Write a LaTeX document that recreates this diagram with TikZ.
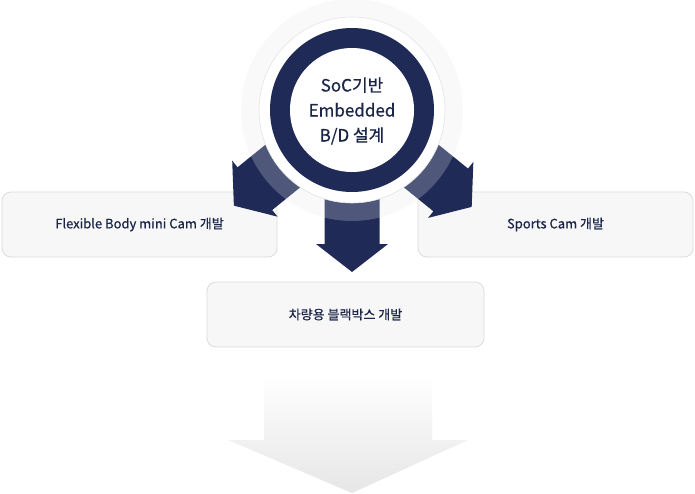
\documentclass[tikz,border=0pt]{standalone}
\usepackage{fontspec}
\newfontfamily\kr{Noto Sans CJK KR}[FakeBold=0.5]
\definecolor{navy}{HTML}{1F2B56}
\definecolor{boxfill}{HTML}{F7F7F7}
\definecolor{boxline}{HTML}{DCDCDC}
\definecolor{txt}{HTML}{1A2548}
\definecolor{halo}{HTML}{E9EAEE}
\definecolor{ringline}{HTML}{E4E4E4}
\definecolor{arrowbot}{HTML}{E6E6E6}
\begin{document}
\begin{tikzpicture}[x=1pt,y=-1pt,
  card/.style={draw=boxline, fill=boxfill, rounded corners=9pt, line width=0.8pt,
    minimum height=65pt, inner sep=0pt, font=\kr\fontsize{13}{15}\selectfont, text=txt},
  navyarrow/.style={fill=navy},
  corelabel/.style={font=\kr\fontsize{17}{25}\selectfont, text=txt, align=center}]
\useasboundingbox (0,0) rectangle (695,494);
\fill[white] (0,0) rectangle (695,494);
% boxes
\node[card, minimum width=275pt] (flex) at (139.5,224.5) {Flexible Body mini Cam 개발};
\node[card, minimum width=275pt] (sports) at (555.5,224.5) {Sports Cam 개발};
\node[card, minimum width=277pt] (car) at (345.5,314.5) {차량용 블랙박스 개발};
% navy arrows
\coordinate (c) at (352,110);
\fill[navyarrow, shift={(c)}, rotate=-51] (-27.5,0) -- (-27.5,125) -- (-36,125) -- (0,152) -- (36,125) -- (27.5,125) -- (27.5,0) -- cycle;
\fill[navyarrow, shift={(c)}, rotate=51] (-27.5,0) -- (-27.5,127) -- (-36,127) -- (0,154) -- (36,127) -- (27.5,127) -- (27.5,0) -- cycle;
\fill[navyarrow, shift={(c)}] (-27.5,0) -- (-27.5,134) -- (-36,134) -- (0,162) -- (36,134) -- (27.5,134) -- (27.5,0) -- cycle;
% halo
\fill[halo, opacity=0.24, even odd rule] (c) circle[radius=111pt] (c) circle[radius=90pt];
\filldraw[fill=white, draw=ringline, line width=0.6pt] (c) circle[radius=93pt];
\fill[navy] (c) circle[radius=82pt];
\fill[white] (c) circle[radius=62pt];
\node[corelabel] (core) at (352,111) {SoC기반\\Embedded\\B/D 설계};
% bottom arrow
\shade[top color=white, bottom color=arrowbot] (264,375) -- (264,440) -- (228,440) -- (352,493) -- (468,440) -- (432,440) -- (432,375) -- cycle;
\end{tikzpicture}
\end{document}
